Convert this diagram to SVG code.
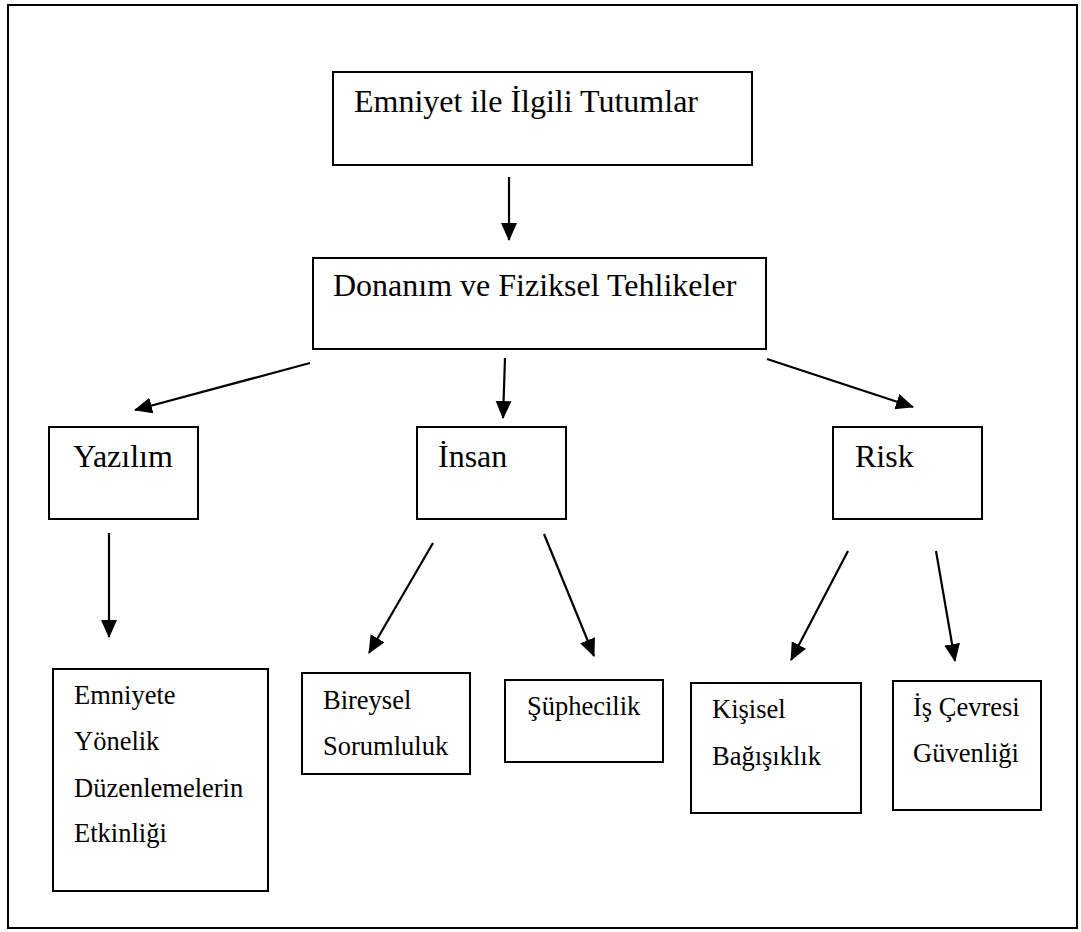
<svg xmlns="http://www.w3.org/2000/svg" width="1081" height="932" viewBox="0 0 1081 932">
  <style>
    .box { fill: #ffffff; stroke: #000000; stroke-width: 2; }
    .frame { fill: none; stroke: #000000; stroke-width: 2; }
    .lbl { font-family: "Liberation Serif", "Times New Roman", serif; fill: #000000; }
    .big { font-size: 32px; }
    .small { font-size: 26.5px; }
    .arrow { stroke: #000000; stroke-width: 2.2; fill: none; marker-end: url(#head); }
  </style>
  <defs>
    <marker id="head" markerUnits="userSpaceOnUse" markerWidth="20" markerHeight="18" refX="17" refY="8" orient="auto">
      <path d="M0,0 L18,8 L0,16 z" fill="#000000"/>
    </marker>
  </defs>

  <rect width="1081" height="932" fill="#ffffff"/>
  <!-- page frame -->
  <rect class="frame" x="8" y="5" width="1069" height="923"/>

  <!-- connectors -->
  <g id="connectors">
    <line class="arrow" x1="509" y1="177" x2="509" y2="240"/>
    <line class="arrow" x1="310" y1="363" x2="135" y2="410"/>
    <line class="arrow" x1="505" y1="358" x2="503" y2="418"/>
    <line class="arrow" x1="767" y1="359" x2="913" y2="407"/>
    <line class="arrow" x1="109" y1="533" x2="109" y2="637"/>
    <line class="arrow" x1="433" y1="543" x2="369" y2="653"/>
    <line class="arrow" x1="544" y1="534" x2="594" y2="656"/>
    <line class="arrow" x1="848" y1="551" x2="791" y2="660"/>
    <line class="arrow" x1="936" y1="551" x2="955" y2="661"/>
  </g>

  <g id="node-tutumlar">
    <rect class="box" x="333" y="72" width="419" height="93"/>
    <text class="lbl big" x="354" y="112">Emniyet ile İlgili Tutumlar</text>
  </g>

  <g id="node-donanim">
    <rect class="box" x="313" y="258" width="453" height="91"/>
    <text class="lbl big" x="333" y="296">Donanım ve Fiziksel Tehlikeler</text>
  </g>

  <g id="node-yazilim">
    <rect class="box" x="49" y="427" width="149" height="92"/>
    <text class="lbl big" x="73" y="467">Yazılım</text>
  </g>

  <g id="node-insan">
    <rect class="box" x="417" y="427" width="149" height="92"/>
    <text class="lbl big" x="438" y="467">İnsan</text>
  </g>

  <g id="node-risk">
    <rect class="box" x="833" y="427" width="149" height="92"/>
    <text class="lbl big" x="855" y="467">Risk</text>
  </g>

  <g id="node-duzenleme">
    <rect class="box" x="53" y="669" width="215" height="222"/>
    <text class="lbl small" x="74" y="704">Emniyete</text>
    <text class="lbl small" x="74" y="750">Yönelik</text>
    <text class="lbl small" x="74" y="797">Düzenlemelerin</text>
    <text class="lbl small" x="74" y="842">Etkinliği</text>
  </g>

  <g id="node-bireysel">
    <rect class="box" x="302" y="673" width="168" height="101"/>
    <text class="lbl small" x="323" y="709">Bireysel</text>
    <text class="lbl small" x="323" y="755">Sorumluluk</text>
  </g>

  <g id="node-suphecilik">
    <rect class="box" x="505" y="680" width="158" height="82"/>
    <text class="lbl small" x="527" y="715">Şüphecilik</text>
  </g>

  <g id="node-kisisel">
    <rect class="box" x="691" y="683" width="170" height="130"/>
    <text class="lbl small" x="712" y="718">Kişisel</text>
    <text class="lbl small" x="712" y="765">Bağışıklık</text>
  </g>

  <g id="node-iscevresi">
    <rect class="box" x="893" y="681" width="148" height="129"/>
    <text class="lbl small" x="913" y="716">İş Çevresi</text>
    <text class="lbl small" x="913" y="762">Güvenliği</text>
  </g>
</svg>
